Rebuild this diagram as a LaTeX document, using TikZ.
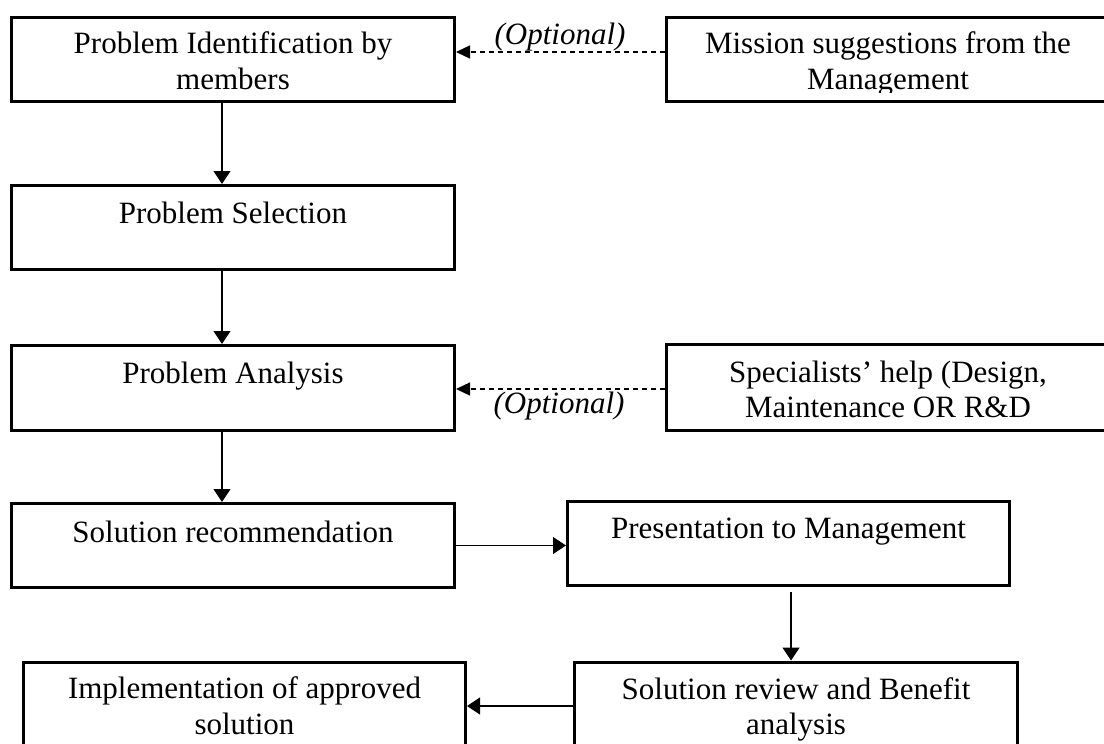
\documentclass[tikz,border=0pt]{standalone}
\usepackage{fontspec}
\setmainfont{Liberation Serif}
\usetikzlibrary{arrows.meta,calc}

% one unit = one pixel of the 1104 x 744 page, y grows downwards
\tikzset{
  stage/.style={draw=black, line width=1.5pt, fill=white,
    minimum width=221.5pt, minimum height=42pt, inner sep=0pt},
  txt/.style={font=\fontsize{15.5}{17.5}\selectfont, anchor=base, inner sep=0pt},
  opt/.style={txt, font=\fontsize{15.5}{17.5}\selectfont\itshape},
  flow/.style={line width=0.65pt, -{Triangle[length=6.5pt,width=8.5pt]}},
  optflow/.style={line width=0.65pt, dash pattern=on 2.5pt off 2pt,
    -{Triangle[length=7pt,width=6.5pt]}}
}

\begin{document}
\begin{tikzpicture}[x=0.5pt, y=-0.5pt]
  \useasboundingbox (0,0) rectangle (1104,744);
  \clip (0,0) rectangle (1104,744);
  \fill[white] (0,0) rectangle (1104,744);

  % stage boxes
  \node[stage] (ident) at (233,59.5) {};
  \node[stage] (mission) at (888,59.5) {};
  \node[stage] (select) at (233,227.5) {};
  \node[stage, minimum height=42.5pt] (analysis) at (233,388) {};
  \node[stage, minimum height=43pt] (special) at (888,387.5) {};
  \node[stage] (recommend) at (233,545.5) {};
  \node[stage, minimum width=221pt] (present) at (788.5,543.5) {};
  \node[stage, minimum height=44pt] (review) at (796,706) {};
  \node[stage, minimum width=221pt, minimum height=44pt] (implement) at (244.5,706) {};

  % box texts
  \node[txt] (ident-1) at (ident |- 0,54) {Problem Identification by};
  \node[txt] (ident-2) at (ident |- 0,89) {members};
  \node[txt] (mission-1) at (mission |- 0,54) {Mission suggestions from the};
  \begin{scope}
    \clip (600,0) rectangle (1104,92);
    \node[txt] (mission-2) at (mission |- 0,89) {Management};
  \end{scope}
  \node[txt] (select-1) at (select |- 0,223) {Problem Selection};
  \node[txt] (analysis-1) at (analysis |- 0,383) {Problem Analysis};
  \node[txt] (special-1) at (special |- 0,382) {Specialists’ help (Design,};
  \node[txt] (special-2) at (special |- 0,417) {Maintenance OR R\&D};
  \node[txt] (recommend-1) at (recommend |- 0,542) {Solution recommendation};
  \node[txt] (present-1) at (present |- 0,538) {Presentation to Management};
  \node[txt] (review-1) at (review |- 0,699) {Solution review and Benefit};
  \begin{scope}
    \clip (560,600) rectangle (1104,740);
    \node[txt] (review-2) at (review |- 0,734) {analysis};
  \end{scope}
  \node[txt] (implement-1) at (implement |- 0,698) {Implementation of approved};
  \node[txt] (implement-2) at (implement |- 0,734) {solution};

  % optional inputs
  \node[opt] (opt-top) at (560,45) {(Optional)};
  \node[opt] (opt-mid) at (559,413) {(Optional)};
  \draw[optflow] ($(mission.west)+(0,-7.5)$) -- ($(ident.east)+(0,-7.5)$);
  \draw[optflow] ($(special.west)+(0,1.5)$) -- ($(special.west -| analysis.east)+(0,1.5)$);

  % main flow
  \draw[flow] ($(ident.south)+(-11,0)$) -- ($(select.north)+(-11,0)$);
  \draw[flow] ($(select.south)+(-11,0)$) -- ($(analysis.north)+(-11,0)$);
  \draw[flow] ($(analysis.south)+(-11,0)$) -- ($(recommend.north)+(-11,0)$);
  \draw[flow] (recommend.east) -- (recommend.east -| present.west);
  \draw[flow] ($(present.south)+(2.5,5)$) -- ($(review.north)+(-5,0)$);
  \draw[flow] (review.west) -- (review.west -| implement.east);
\end{tikzpicture}
\end{document}
